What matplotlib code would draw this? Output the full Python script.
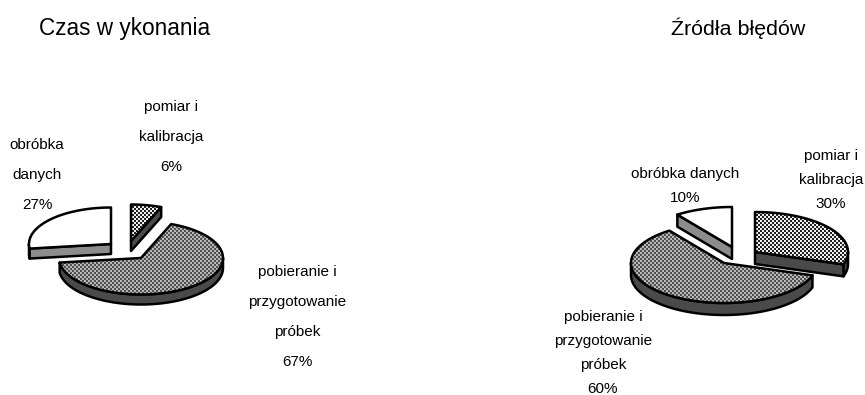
import numpy as np
import matplotlib
matplotlib.use('Agg')
import matplotlib.pyplot as plt
from matplotlib.patches import Polygon

plt.rcParams['font.family'] = ['Liberation Sans', 'DejaVu Sans']

W, H = 865, 395

# Chart data
left_title = 'Czas w ykonania'
left_labels = ['pomiar i\nkalibracja', 'pobieranie i\nprzygotowanie\npróbek', 'obróbka\ndanych']
left_values = [6, 67, 27]

right_title = 'Źródła błędów'
right_labels = ['pomiar i\nkalibracja', 'pobieranie i\nprzygotowanie\npróbek', 'obróbka danych']
right_values = [30, 60, 10]

# dot colour and background of the dotted faces
TOP_DARK = ('#f0f0f0', '#202020')
TOP_MID = ('#b8b8b8', '#505050')
SIDE_DARK = '#4a4a4a'
SIDE_MID = '#8c8c8c'
LW = 1.8


def checker_image(fg, bg, size=2):
    # dotted fill used on the pie faces
    yy, xx = np.mgrid[0:H, 0:W]
    mask = ((xx // size + yy // size) % 2 == 0)
    fg_rgb = np.array(matplotlib.colors.to_rgb(fg))
    bg_rgb = np.array(matplotlib.colors.to_rgb(bg))
    return np.where(mask[..., None], fg_rgb, bg_rgb)


def arc(center, rx, ry, start, end, n=80):
    # angles run clockwise from twelve o'clock, in degrees
    a = np.radians(np.linspace(start, end, n))
    return np.column_stack([center[0] + rx * np.sin(a), center[1] - ry * np.cos(a)])


def draw_cut(ax, center, angle, rx, ry, depth, side, z):
    tip = arc(center, rx, ry, angle, angle, n=1)[0]
    cut = np.array([center, tip, tip + [0, depth], np.add(center, [0, depth])])
    ax.add_patch(Polygon(cut, closed=True, fc=side, ec='black', lw=LW, joinstyle='round', zorder=z))


def draw_slice(ax, center, rx, ry, depth, start, end, top, side, z):
    rim = arc(center, rx, ry, start, end)
    face = np.vstack([center, rim])

    # outer wall: only the part of the rim facing the viewer
    lo, hi = max(start, 90), min(end, 270)
    if lo < hi:
        front = arc(center, rx, ry, lo, hi)
        wall = np.vstack([front, front[::-1] + [0, depth]])
        ax.add_patch(Polygon(wall, closed=True, fc=side, ec='black', lw=LW, joinstyle='round', zorder=z))

    # flat cut walls along the radii that face the viewer
    if 180 <= start < 360:
        draw_cut(ax, center, start, rx, ry, depth, side, z)
    if 0 < end <= 180:
        draw_cut(ax, center, end, rx, ry, depth, side, z)

    if top is None:
        ax.add_patch(Polygon(face, closed=True, fc='white', ec='black', lw=LW, joinstyle='round', zorder=z + 1))
    else:
        im = ax.imshow(checker_image(top[0], top[1]), extent=(0, W, H, 0),
                       interpolation='nearest', zorder=z + 1)
        im.set_clip_path(Polygon(face, closed=True, transform=ax.transData))
        ax.add_patch(Polygon(face, closed=True, fc='none', ec='black', lw=LW, joinstyle='round', zorder=z + 2))


def draw_pie(ax, values, centers, rx, ry, depth, tops, sides):
    edges = np.cumsum([0] + list(values)) * 3.6
    for i in range(len(values)):
        draw_slice(ax, centers[i], rx, ry, depth, edges[i], edges[i + 1], tops[i], sides[i], 2 + i * 3)


fig = plt.figure(figsize=(W / 100, H / 100), dpi=100)
ax = fig.add_axes([0, 0, 1, 1])
ax.axis('off')

draw_pie(ax, left_values, [(131, 241), (141, 258), (111, 244)], 82, 36.5, 10,
         [TOP_DARK, TOP_MID, None], [SIDE_DARK, SIDE_DARK, SIDE_MID])
draw_pie(ax, right_values, [(755, 252), (724, 263), (732, 247)], 93, 40, 12,
         [TOP_DARK, TOP_MID, None], [SIDE_DARK, SIDE_DARK, SIDE_MID])
ax.set_xlim(0, W)
ax.set_ylim(H, 0)
ax.set_aspect('auto')

ax.text(124.5, 35, left_title, fontsize=16.3, ha='center', va='baseline')
ax.text(738, 35, right_title, fontsize=15.4, ha='center', va='baseline')

# slice labels
left_pos = [(171, 137), (297, 317), (37, 175)]
right_pos = [(831, 180), (603, 353), (685, 186)]
for lab, val, pos in zip(left_labels, left_values, left_pos):
    ax.text(pos[0], pos[1], f'{lab}\n{val}%', fontsize=11, ha='center', va='center',
            multialignment='center', linespacing=2.46)
for lab, val, pos in zip(right_labels, right_values, right_pos):
    ax.text(pos[0], pos[1], f'{lab}\n{val}%', fontsize=11, ha='center', va='center',
            multialignment='center', linespacing=1.9)

fig.savefig('out.png', dpi=100)
